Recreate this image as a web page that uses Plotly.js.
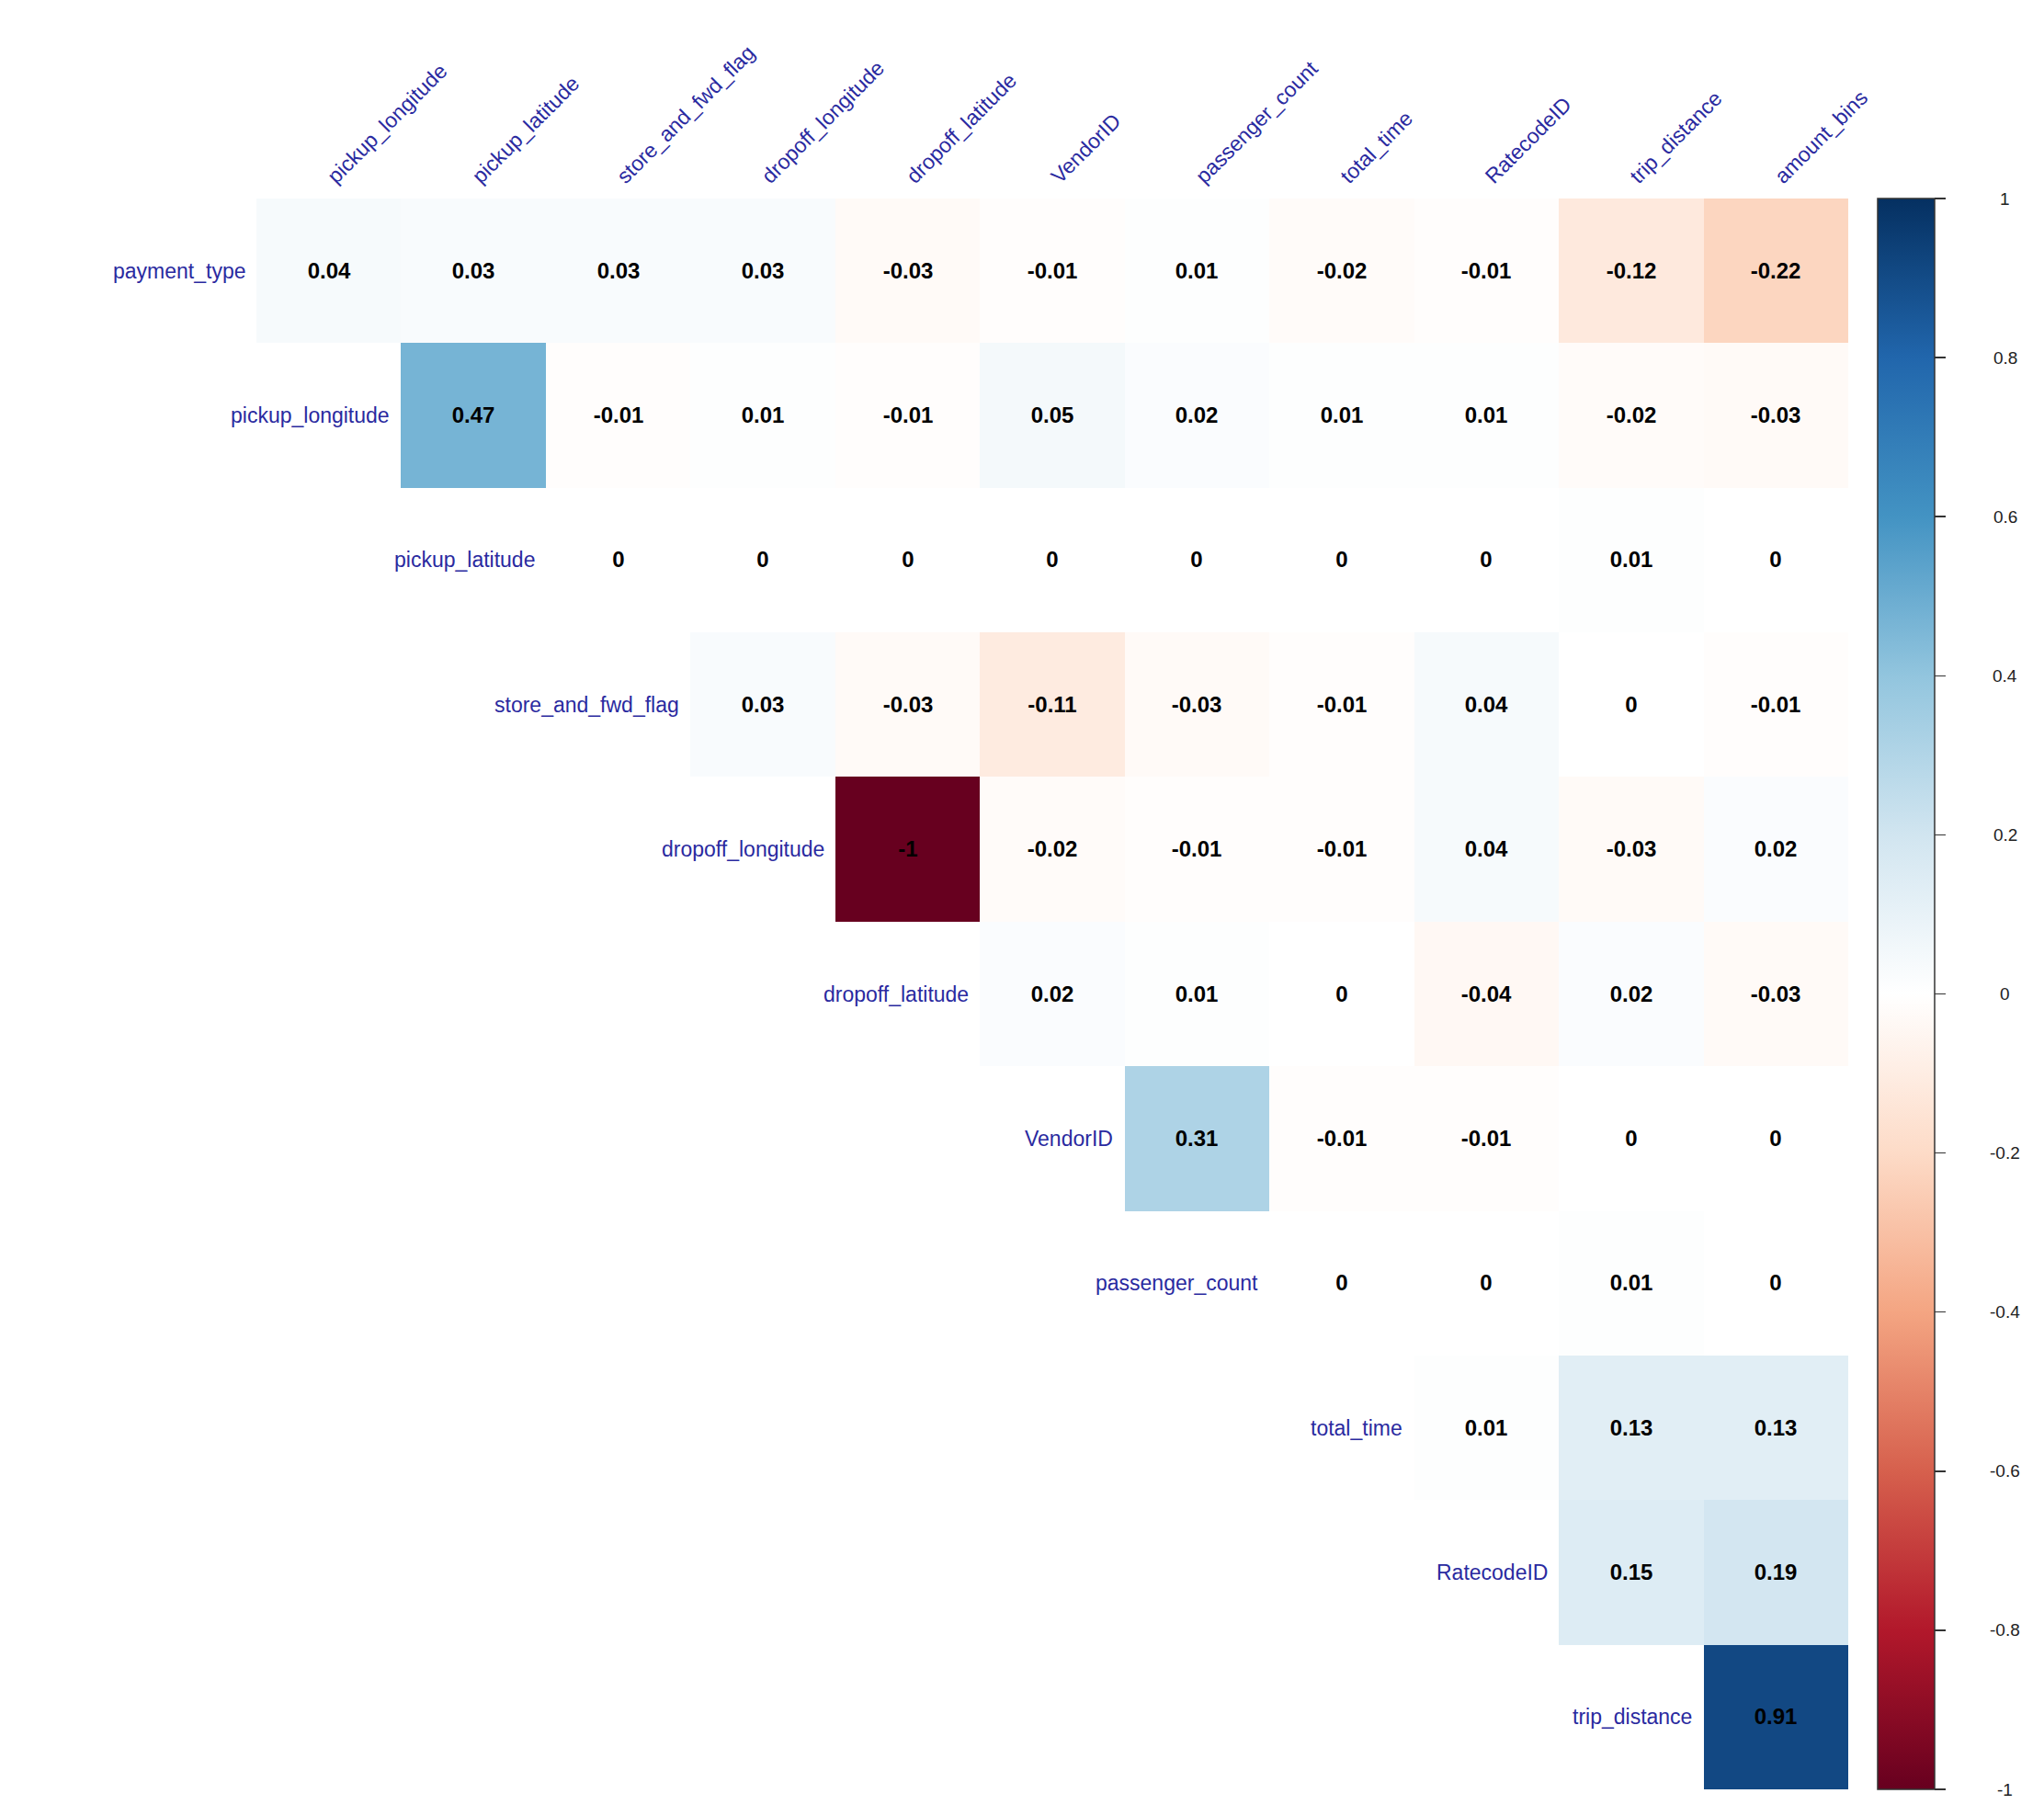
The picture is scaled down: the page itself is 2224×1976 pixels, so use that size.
<!DOCTYPE html>
<html>
<head>
<meta charset="utf-8">
<script src="https://cdn.plot.ly/plotly-3.0.1.min.js"></script>
<style>html,body{margin:0;padding:0;background:#fff;}</style>
</head>
<body>
<div id="chart" style="width:2224px;height:1976px;"></div>
<script>
// Row (y) and column (x) variable names
const rowLabels = ["payment_type","pickup_longitude","pickup_latitude","store_and_fwd_flag","dropoff_longitude","dropoff_latitude","VendorID","passenger_count","total_time","RatecodeID","trip_distance"];
const colLabels = ["pickup_longitude","pickup_latitude","store_and_fwd_flag","dropoff_longitude","dropoff_latitude","VendorID","passenger_count","total_time","RatecodeID","trip_distance","amount_bins"];

// Upper-triangle correlation values for each row (starting at the diagonal column)
const payment_type       = [0.04, 0.03, 0.03, 0.03, -0.03, -0.01, 0.01, -0.02, -0.01, -0.12, -0.22];
const pickup_longitude   = [0.47, -0.01, 0.01, -0.01, 0.05, 0.02, 0.01, 0.01, -0.02, -0.03];
const pickup_latitude    = [0, 0, 0, 0, 0, 0, 0, 0.01, 0];
const store_and_fwd_flag = [0.03, -0.03, -0.11, -0.03, -0.01, 0.04, 0, -0.01];
const dropoff_longitude  = [-1, -0.02, -0.01, -0.01, 0.04, -0.03, 0.02];
const dropoff_latitude   = [0.02, 0.01, 0, -0.04, 0.02, -0.03];
const VendorID           = [0.31, -0.01, -0.01, 0, 0];
const passenger_count    = [0, 0, 0.01, 0];
const total_time         = [0.01, 0.13, 0.13];
const RatecodeID         = [0.15, 0.19];
const trip_distance      = [0.91];

// Colour bar tick values
const cbTicks = [1, 0.8, 0.6, 0.4, 0.2, 0, -0.2, -0.4, -0.6, -0.8, -1];

const rows = [payment_type, pickup_longitude, pickup_latitude, store_and_fwd_flag, dropoff_longitude, dropoff_latitude, VendorID, passenger_count, total_time, RatecodeID, trip_distance];
const z = rows.map((r, i) => new Array(i).fill(null).concat(r));
const txt = z.map(r => r.map(v => v === null ? "" : String(v)));

const RdBu = [
  [0.0, "#67001F"], [0.1, "#B2182B"], [0.2, "#D6604D"], [0.3, "#F4A582"], [0.4, "#FDDBC7"],
  [0.5, "#FFFFFF"], [0.6, "#D1E5F0"], [0.7, "#92C5DE"], [0.8, "#4393C3"], [0.9, "#2166AC"], [1.0, "#053061"]
];

const labelColor = "#2a2aa0";
const font = "Liberation Sans, Arial, sans-serif";

const W = 2224, H = 1976;
const L = 278.5, R = 2011, T = 215.5, B = 1947.5;
const pw = R - L;

const annotations = [];
rowLabels.forEach((name, i) => {
  annotations.push({
    x: colLabels[i], y: name, xref: "x", yref: "y",
    text: name, showarrow: false, xanchor: "right", yanchor: "middle",
    xshift: -89, font: {family: font, size: 23, color: labelColor}
  });
});
cbTicks.forEach(v => {
  annotations.push({
    x: (2182 - L) / pw, y: (v + 1) / 2, xref: "paper", yref: "paper",
    text: String(v), showarrow: false, xanchor: "center", yanchor: "middle",
    font: {family: font, size: 19, color: "#222"}
  });
});

const trace = {
  type: "heatmap",
  x: colLabels, y: rowLabels, z: z, text: txt,
  texttemplate: "%{text}",
  textfont: {family: font, size: 24, color: "#000", weight: "bold"},
  colorscale: RdBu, zmin: -1, zmax: 1, hoverongaps: false,
  xgap: 0, ygap: 0,
  colorbar: {
    x: (2043 - L) / pw, xanchor: "left", xpad: 0, ypad: 0,
    y: 0.5, yanchor: "middle", len: 1, lenmode: "fraction",
    thickness: 62, thicknessmode: "pixels",
    outlinewidth: 1.5, outlinecolor: "#333",
    tickmode: "array", tickvals: cbTicks, ticks: "outside", ticklen: 12,
    tickwidth: 1.5, tickcolor: "#333", showticklabels: false
  }
};

const layout = {
  width: W, height: H,
  margin: {l: L, r: W - R, t: T, b: H - B, pad: 0},
  paper_bgcolor: "#fff", plot_bgcolor: "#fff",
  showlegend: false,
  xaxis: {
    side: "top", type: "category", range: [-0.5, 10.5],
    showgrid: false, zeroline: false, showline: false, ticks: "",
    tickangle: -45, ticklabelstandoff: 6,
    tickfont: {family: font, size: 23, color: labelColor}
  },
  yaxis: {
    type: "category", range: [10.5, -0.5],
    showgrid: false, zeroline: false, showline: false, ticks: "",
    showticklabels: false
  },
  annotations: annotations
};

Plotly.newPlot("chart", [trace], layout, {displayModeBar: false, staticPlot: true});
</script>
</body>
</html>
